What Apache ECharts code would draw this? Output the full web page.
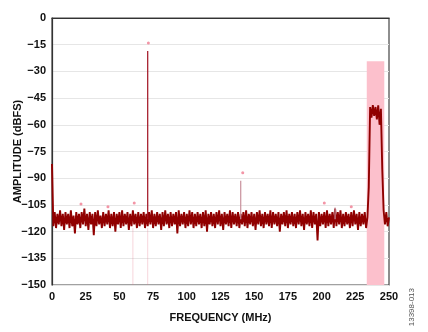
<!DOCTYPE html>
<html>
<head>
<meta charset="utf-8">
<script src="https://cdn.jsdelivr.net/npm/echarts@6/dist/echarts.min.js"></script>
<style>
  html, body { margin: 0; padding: 0; background: #fff; }
  #chart { width: 428px; height: 332px; }
</style>
</head>
<body>
<div id="chart"></div>
<script>
// spectrum trace, one value per MHz from 0 to 250
const spectrum = [
  -82, -117, -109, -118, -110, -116, -108, -117, -110, -119,
  -109, -116, -110, -118, -108, -117, -111, -121, -109, -116,
  -110, -118, -109, -116, -107, -117, -110, -119, -109, -116,
  -110, -122, -109, -117, -108, -116, -111, -118, -109, -117,
  -110, -116, -108, -118, -110, -117, -109, -120, -110, -116,
  -109, -118, -108, -117, -110, -116, -109, -119, -110, -117,
  -108, -116, -110, -118, -109, -117, -110, -116, -109, -118,
  -110, -117, -109, -116, -108, -118, -110, -117, -109, -116,
  -110, -119, -109, -117, -108, -116, -110, -118, -109, -117,
  -110, -116, -109, -121, -108, -117, -110, -116, -109, -118,
  -110, -117, -108, -116, -109, -118, -110, -117, -109, -116,
  -110, -118, -109, -117, -108, -120, -110, -116, -109, -117,
  -110, -118, -109, -116, -108, -117, -110, -119, -109, -116,
  -110, -117, -108, -118, -109, -116, -110, -117, -109, -118,
  -110, -116, -109, -117, -108, -118, -110, -116, -109, -117,
  -110, -119, -109, -116, -108, -117, -110, -118, -109, -116,
  -110, -117, -108, -118, -109, -116, -110, -117, -109, -120,
  -110, -116, -109, -117, -108, -118, -110, -116, -109, -117,
  -110, -118, -109, -116, -108, -117, -110, -119, -109, -116,
  -110, -117, -108, -118, -109, -116, -110, -125, -109, -117,
  -110, -116, -109, -118, -108, -117, -110, -116, -109, -118,
  -107, -117, -109, -116, -108, -118, -110, -117, -109, -116,
  -110, -118, -109, -117, -108, -116, -110, -119, -109, -117,
  -110, -116, -109, -118, -112, -95, -50, -56, -49, -55,
  -50, -57, -49, -60, -51, -85, -108, -116, -109, -117,
  -112
]

// spurs drawn as thin vertical lines from the floor
const spurFreq = [71, 140, 210]
const spurPeak = [-18.5, -91.5, -106.5]
const spurColor = ['#a01020', '#c8909c', '#c8909c']

// faint lines under the floor
const faintFreq = [60, 71]

// pink markers
const markerFreq = [21.5, 41.5, 61, 71.5, 141.5, 202, 222]
const markerAmp = [-104.5, -106, -104, -14, -87, -104, -106]

// shaded band
const bandFreq = [233.5, 246.5]
const bandTop = -24.3

const xTicks = [0, 25, 50, 75, 100, 125, 150, 175, 200, 225, 250]
const floorLevel = -113

const chart = echarts.init(document.getElementById('chart'))
const font = 'Liberation Sans, Arial, sans-serif'

const option = {
  animation: false,
  grid: {
    left: 52, right: 39, top: 18, bottom: 47,
    outerBoundsMode: 'none',
    containLabel: false,
    show: true, borderColor: '#444', borderWidth: 1.2
  },
  xAxis: {
    type: 'value',
    min: xTicks[0],
    max: xTicks[xTicks.length - 1],
    interval: 25,
    name: 'FREQUENCY (MHz)',
    nameLocation: 'middle',
    nameGap: 27,
    nameMoveOverlap: false,
    nameTextStyle: { fontFamily: font, fontWeight: 'bold', fontSize: 11, color: '#111' },
    axisLine: { lineStyle: { color: '#333', width: 1.2 } },
    axisTick: { show: false },
    axisLabel: { fontFamily: font, fontWeight: 'bold', fontSize: 11, color: '#111', margin: 6 },
    splitLine: { show: false }
  },
  yAxis: {
    type: 'value',
    min: -150,
    max: 0,
    interval: 15,
    name: 'AMPLITUDE (dBFS)',
    nameLocation: 'middle',
    nameGap: 29,
    nameMoveOverlap: false,
    nameTextStyle: { fontFamily: font, fontWeight: 'bold', fontSize: 11, color: '#111' },
    axisLine: { show: true, lineStyle: { color: '#333', width: 1.2 } },
    axisTick: { show: false },
    axisLabel: {
      fontFamily: font, fontWeight: 'bold', fontSize: 11, color: '#111', margin: 6,
      formatter: v => String(v).replace('-', '\u2212')
    },
    splitLine: { lineStyle: { color: '#e6e6e6', width: 1 } }
  },
  series: [
    {
      name: 'band',
      type: 'line',
      data: [],
      z: 1,
      markArea: {
        silent: true,
        itemStyle: { color: '#fcc0cc' },
        data: [[{ xAxis: bandFreq[0], yAxis: bandTop }, { xAxis: bandFreq[1], yAxis: -150 }]]
      }
    },
    {
      name: 'faint',
      type: 'custom',
      z: 2,
      data: faintFreq.map(f => [f]),
      renderItem: (params, api) => {
        const a = api.coord([api.value(0), floorLevel - 5])
        const b = api.coord([api.value(0), -150])
        return {
          type: 'line',
          shape: { x1: a[0], y1: a[1], x2: b[0], y2: b[1] },
          style: { stroke: 'rgba(230,120,140,0.3)', lineWidth: 1 }
        }
      }
    },
    {
      name: 'spectrum',
      type: 'line',
      z: 3,
      data: spectrum.map((v, i) => [i, v]),
      symbol: 'none',
      lineStyle: { color: '#900000', width: 1.9 }
    },
    {
      name: 'spurs',
      type: 'custom',
      z: 4,
      data: spurFreq.map((f, i) => [f, spurPeak[i], i]),
      renderItem: (params, api) => {
        const a = api.coord([api.value(0), floorLevel])
        const b = api.coord([api.value(0), api.value(1)])
        return {
          type: 'line',
          shape: { x1: a[0], y1: a[1], x2: b[0], y2: b[1] },
          style: { stroke: spurColor[api.value(2)], lineWidth: 1.2 }
        }
      }
    },
    {
      name: 'markers',
      type: 'scatter',
      z: 5,
      symbolSize: 3,
      itemStyle: { color: '#f07a90' },
      data: markerFreq.map((f, i) => [f, markerAmp[i]])
    }
  ],
  graphic: [
    {
      type: 'text',
      left: 408,
      top: 288,
      rotation: Math.PI / 2,
      style: { text: '13398-013', font: '8px ' + font, fill: '#555' }
    }
  ]
}

chart.setOption(option)
</script>
</body>
</html>
